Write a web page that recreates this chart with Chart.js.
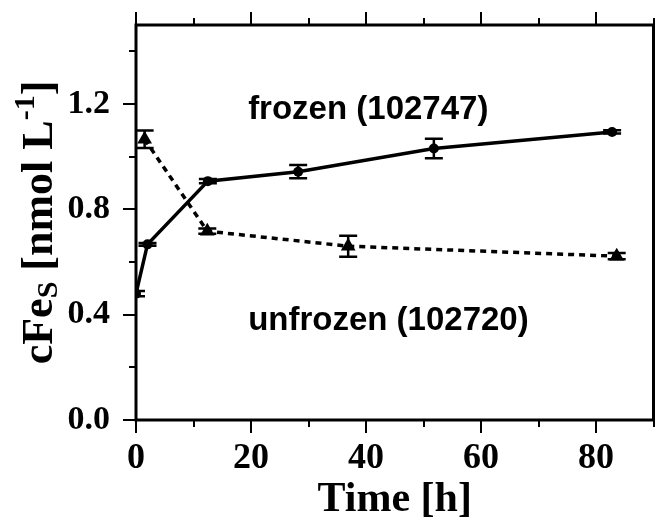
<!DOCTYPE html>
<html>
<head>
<meta charset="utf-8">
<script src="https://cdn.jsdelivr.net/npm/chart.js@4.4.1/dist/chart.umd.min.js"></script>
<style>
  html, body { margin: 0; padding: 0; background: #fff; }
  #wrap { width: 662px; height: 521px; }
</style>
</head>
<body>
<div id="wrap"><canvas id="myChart" width="662" height="521"></canvas></div>
<script>
// frozen sample (102747) - solid line, circles
var frozenTime = [0, 2, 12.5, 28.2, 51.8, 82.8];
var frozenConc = [0.48, 0.667, 0.907, 0.943, 1.031, 1.094];
var frozenErr = [0.01, 0.005, 0.008, 0.025, 0.037, 0.006];

// unfrozen sample (102720) - dotted line, triangles
var unfrozenTime = [1.5, 12.4, 36.9, 83.6];
var unfrozenConc = [1.066, 0.717, 0.66, 0.622];
var unfrozenErr = [0.033, 0.01, 0.04, 0.012];

var xTickLabels = [0, 20, 40, 60, 80];
var yTickLabels = [0.0, 0.4, 0.8, 1.2];

var serif = '"Liberation Serif", "Times New Roman", serif';
var sans = '"Liberation Sans", Arial, sans-serif';

function toPoints(xs, ys, errs) {
    return xs.map(function (x, i) { return { x: x, y: ys[i], err: errs[i] }; });
}

// error bars, frame, tick marks, labels
var decorations = {
    id: 'decorations',
    afterDatasetsDraw: function (chart) {
        var ctx = chart.ctx, a = chart.chartArea;
        var xs = chart.scales.x, ys = chart.scales.y;

        // error bars
        ctx.save();
        ctx.beginPath();
        ctx.rect(a.left, a.top, a.right - a.left, a.bottom - a.top);
        ctx.clip();
        ctx.strokeStyle = '#000';
        ctx.lineWidth = 2.5;
        chart.data.datasets.forEach(function (ds) {
            ds.data.forEach(function (p) {
                var px = xs.getPixelForValue(p.x);
                var top = ys.getPixelForValue(p.y + p.err);
                var bot = ys.getPixelForValue(p.y - p.err);
                ctx.beginPath();
                ctx.moveTo(px, top); ctx.lineTo(px, bot);
                ctx.moveTo(px - 9, top); ctx.lineTo(px + 9, top);
                ctx.moveTo(px - 9, bot); ctx.lineTo(px + 9, bot);
                ctx.stroke();
            });
        });
        ctx.restore();

        // frame
        ctx.save();
        ctx.strokeStyle = '#000';
        ctx.lineWidth = 3;
        ctx.strokeRect(a.left, a.top, a.right - a.left, a.bottom - a.top);

        // tick marks (major every 20 h / 0.4, minor in between)
        ctx.lineWidth = 2;
        ctx.beginPath();
        for (var t = 0; t <= 90; t += 10) {
            var px = Math.round(xs.getPixelForValue(t));
            var len = (t % 20 === 0) ? 13 : 7;
            ctx.moveTo(px, a.bottom); ctx.lineTo(px, a.bottom + len);
            ctx.moveTo(px, a.top); ctx.lineTo(px, a.top - len);
        }
        for (var k = 0; k <= 7; k++) {
            var py = Math.round(ys.getPixelForValue(k * 0.2));
            var ylen = (k % 2 === 0) ? 13 : 7;
            ctx.moveTo(a.left, py); ctx.lineTo(a.left - ylen, py);
        }
        ctx.stroke();

        // annotations
        ctx.fillStyle = '#000';
        ctx.font = 'bold 33px ' + sans;
        ctx.textBaseline = 'alphabetic';
        ctx.textAlign = 'left';
        ctx.fillText('frozen (102747)', xs.getPixelForValue(19.5), ys.getPixelForValue(1.143));
        ctx.fillText('unfrozen (102720)', xs.getPixelForValue(19.5), ys.getPixelForValue(0.343));

        // y axis title with subscript and superscript
        var parts = [
            { t: 'cFe', size: 44, dy: 0 },
            { t: 'S', size: 30, dy: 5 },
            { t: ' [nmol L', size: 44, dy: 0 },
            { t: '-1', size: 30, dy: -18 },
            { t: ']', size: 44, dy: 0 }
        ];
        var total = 0;
        parts.forEach(function (p) {
            ctx.font = 'bold ' + p.size + 'px ' + serif;
            p.w = ctx.measureText(p.t).width;
            total += p.w;
        });
        ctx.translate(52, (a.top + a.bottom) / 2);
        ctx.rotate(-Math.PI / 2);
        var cx = -total / 2;
        parts.forEach(function (p) {
            ctx.font = 'bold ' + p.size + 'px ' + serif;
            ctx.fillText(p.t, cx, p.dy);
            cx += p.w;
        });
        ctx.restore();
    }
};

var chart = new Chart(document.getElementById('myChart').getContext('2d'), {
    type: 'scatter',
    data: {
        datasets: [{
            label: 'frozen (102747)',
            data: toPoints(frozenTime, frozenConc, frozenErr),
            showLine: true,
            borderColor: '#000',
            backgroundColor: '#000',
            borderWidth: 3.5,
            pointStyle: 'circle',
            pointRadius: 5,
            pointBorderWidth: 0
        }, {
            label: 'unfrozen (102720)',
            data: toPoints(unfrozenTime, unfrozenConc, unfrozenErr),
            showLine: true,
            borderColor: '#000',
            backgroundColor: '#000',
            borderWidth: 3.5,
            borderDash: [6, 5],
            pointStyle: 'triangle',
            pointRadius: 8.5,
            pointBorderWidth: 0
        }]
    },
    options: {
        responsive: false,
        animation: false,
        layout: { padding: { top: 25, right: 3, left: 0, bottom: 0 } },
        plugins: {
            legend: { display: false },
            tooltip: { enabled: false }
        },
        scales: {
            x: {
                type: 'linear',
                min: 0,
                max: 90,
                grid: { display: false, drawTicks: false },
                border: { display: false },
                afterBuildTicks: function (scale) {
                    scale.ticks = xTickLabels.map(function (v) { return { value: v }; });
                },
                ticks: {
                    autoSkip: false,
                    maxRotation: 0,
                    padding: 17,
                    color: '#000',
                    font: { family: serif, size: 36, weight: 'bold' },
                    callback: function (v) { return String(v); }
                },
                title: {
                    display: true,
                    text: 'Time [h]',
                    color: '#000',
                    font: { family: serif, size: 42, weight: 'bold', lineHeight: 1.0 },
                    padding: { top: 0, bottom: 0 }
                },
                afterFit: function (scale) {
                    scale.height = 101;
                    scale.paddingLeft = 0;
                    scale.paddingRight = 0;
                }
            },
            y: {
                min: 0,
                max: 1.5,
                grid: { display: false, drawTicks: false },
                border: { display: false },
                afterBuildTicks: function (scale) {
                    scale.ticks = yTickLabels.map(function (v) { return { value: v }; });
                },
                ticks: {
                    autoSkip: false,
                    padding: 26,
                    color: '#000',
                    font: { family: serif, size: 34, weight: 'bold' },
                    callback: function (v) { return v.toFixed(1); }
                },
                afterFit: function (scale) {
                    scale.width = 136;
                    scale.paddingTop = 0;
                    scale.paddingBottom = 0;
                }
            }
        }
    },
    plugins: [decorations]
});
</script>
</body>
</html>
